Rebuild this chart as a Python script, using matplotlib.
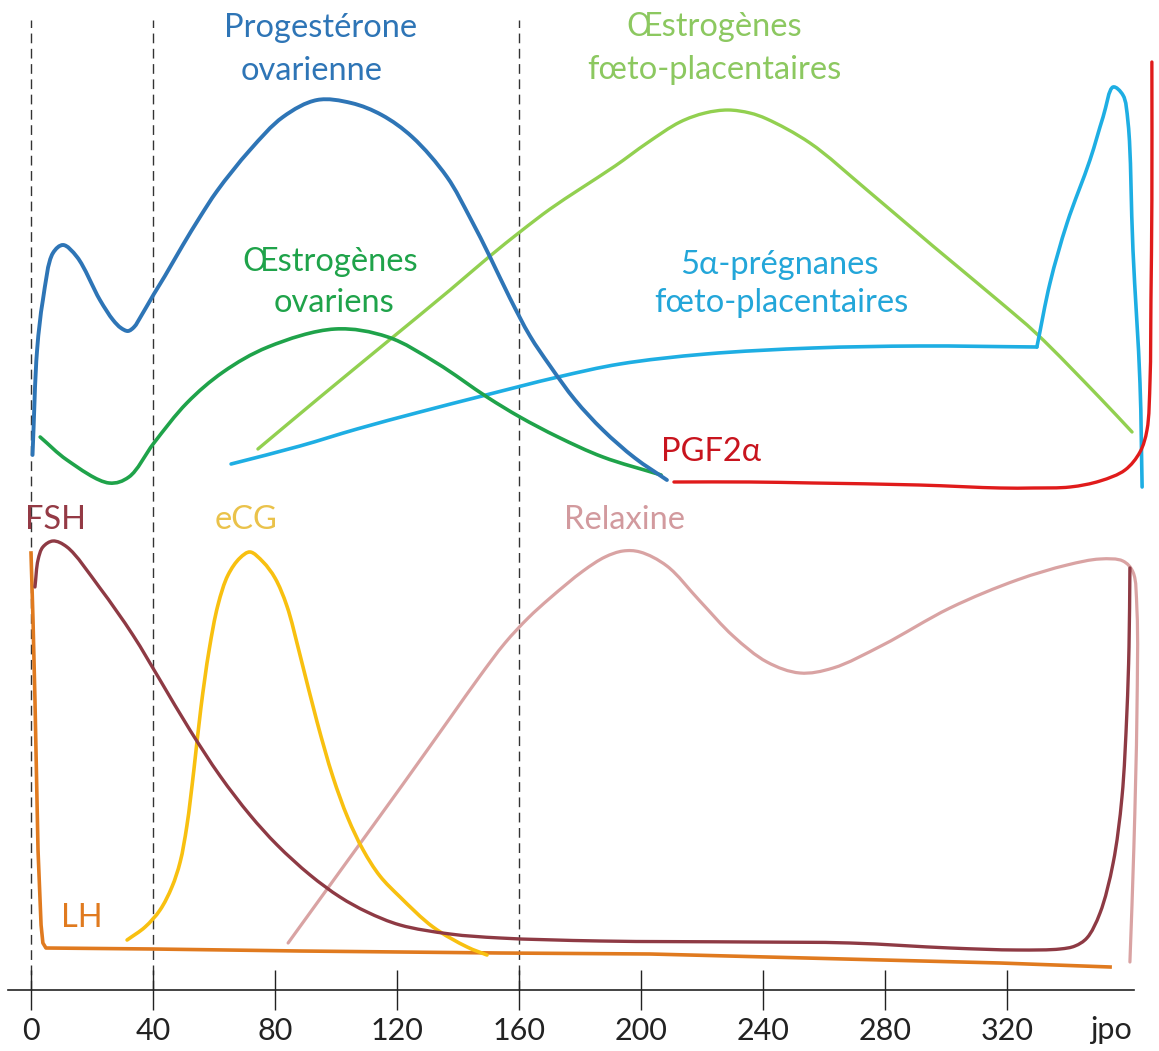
import numpy as np
import matplotlib
matplotlib.use("Agg")
import matplotlib.pyplot as plt
from matplotlib.path import Path
from matplotlib.patches import PathPatch

# ---------------- data (days post ovulation, relative level) ----------------
prog_days = [0.5, 2, 3.9, 7.2, 10.5, 15.1, 22.6, 26.9, 29.5, 31.8, 33.8, 36.1, 40.3, 43.9, 49.8, 55.4, 61, 71.8, 82.6, 93.8, 105, 115, 125, 136.4, 144, 150.5, 157, 163.6, 170.2, 178.4, 187.5, 198, 208.5]
prog_lvl = [535, 640, 690, 737, 745, 733, 690, 670, 662, 659, 663, 674, 696, 714, 745, 773, 799, 840, 873, 890, 887, 875, 853, 813, 772, 733, 692, 654, 624, 590, 560, 532, 510]

oeov_days = [3, 11.8, 25.6, 32.1, 40.3, 51.1, 63, 77.7, 99.7, 117, 133, 149.5, 160.3, 172.8, 187.5, 206.6]
oeov_lvl = [553, 530, 507, 513, 547, 587, 618, 643, 661, 653, 627, 593, 573, 553, 533, 515]

oefp_days = [74.4, 94.8, 116.7, 137.4, 150.5, 160.7, 170.2, 180, 191.5, 202, 212.8, 221, 228.5, 235.7, 241.3, 255.4, 274.1, 295.7, 317.7, 329.8, 350.5, 361]
oefp_lvl = [541, 593, 648, 700, 734, 759, 781, 801, 824, 847, 868, 877, 880, 877, 871, 847, 800, 744, 688, 656, 592, 558]

preg_days = [65.6, 88.2, 106.9, 127.5, 147.9, 172.8, 193.1, 221.3, 256.4, 291.1, 329.8]
preg_lvl = [526, 544, 561, 578, 594, 613, 626, 636, 642, 644, 643]
preg_peak_days = [329.8, 334.1, 339.7, 347.2, 351.5, 354.8, 358, 359.7, 361.3, 363.6, 364.3]
preg_peak_lvl = [643, 707, 767, 830, 873, 903, 895, 867, 740, 607, 503]

pgf_days = [210.8, 235.7, 256.4, 291.1, 317.7, 328.5, 340.7, 350.5, 358.7, 363.6, 365.9, 366.9, 367.2, 367.5, 367.5]
pgf_lvl = [508, 508, 507, 505, 502, 502, 503, 509, 520, 538, 560, 610, 690, 790, 928]

fsh_days = [1.3, 2.3, 3.9, 7.2, 11.8, 22.6, 33.4, 42.3, 52.1, 62, 71.8, 80.7, 91.5, 101.3, 110.2, 121, 137.4, 153.8, 186.6, 235.7, 268.5, 301.3, 323.3, 337.4, 342.3, 346.2, 350.5, 354.8, 357.7, 359.3, 360, 360.3]
fsh_lvl = [403, 430, 443, 449, 443, 402, 355, 310, 260, 214, 175, 145, 115, 93, 78, 65, 56, 52, 49, 48, 47, 42, 40, 41, 44, 52, 77, 127, 193, 277, 343, 422]

lh_days = [0, 0.66, 1.3, 2.3, 3.3, 3.9, 4.9, 40, 88.2, 153.8, 203, 241.3, 279.3, 317.7, 353.8]
lh_lvl = [437, 370, 290, 140, 65, 47, 42, 41, 39, 37, 36, 33, 30, 27, 23]

ecg_days = [31.5, 37.4, 42.3, 46.2, 48.9, 51.1, 53.4, 55.7, 58.4, 61.3, 64.6, 68.5, 71.8, 76.1, 80, 83.9, 88.2, 93.8, 99, 103.9, 108.9, 114.4, 121, 131.8, 143, 149.5]
ecg_lvl = [50, 63, 80, 103, 128, 164, 220, 282, 340, 385, 415, 432, 438, 428, 412, 384, 335, 268, 213, 172, 140, 114, 93, 63, 43, 35]

relax_days = [84.3, 102.8, 122, 137.4, 147.2, 155.4, 163, 170.2, 181, 188.2, 194.1, 199.7, 208.5, 219.3, 230.2, 241.3, 252.1, 263, 279.3, 301.3, 323.3, 339.7, 350.5, 358, 361.3, 362.6, 362.6, 361.6, 360.3]
relax_lvl = [47, 125, 206, 272, 314, 347, 372, 392, 419, 433, 439, 438, 424, 389, 354, 328, 317, 322, 345, 382, 410, 425, 431, 429, 418, 380, 277, 143, 28]

tick_values = [0, 40, 80, 120, 160, 200, 240, 280, 320]
dashed_days = [0, 40, 160]

# ---------------- drawing ----------------
PX_PER_DAY = 3.05
fig = plt.figure(figsize=(11.59, 10.51), dpi=100)
ax = fig.add_axes([0, 0, 1, 1])
ax.set_xlim(-31 / PX_PER_DAY, (1159 - 31) / PX_PER_DAY)
ax.set_ylim(-61, 990)

FONT = ['Lato', 'Noto Sans', 'DejaVu Sans']


def smooth(xs, ys, color, lw=2.6, z=3):
    """Centripetal Catmull-Rom through the data points, drawn as Bezier path."""
    P = np.column_stack([np.asarray(xs, float) * PX_PER_DAY, np.asarray(ys, float)])
    n = len(P)
    E = np.vstack([2 * P[0] - P[1], P, 2 * P[-1] - P[-2]])
    verts = [P[0]]
    codes = [Path.MOVETO]
    for i in range(n - 1):
        p0, p1, p2, p3 = E[i], E[i + 1], E[i + 2], E[i + 3]
        d0 = max(np.linalg.norm(p1 - p0), 1e-6) ** 0.5
        d1 = max(np.linalg.norm(p2 - p1), 1e-6) ** 0.5
        d2 = max(np.linalg.norm(p3 - p2), 1e-6) ** 0.5
        m1 = (p1 - p0) / d0 - (p2 - p0) / (d0 + d1) + (p2 - p1) / d1
        m2 = (p2 - p1) / d1 - (p3 - p1) / (d1 + d2) + (p3 - p2) / d2
        verts += [p1 + m1 * d1 / 3.0, p2 - m2 * d1 / 3.0, p2]
        codes += [Path.CURVE4] * 3
    V = np.array(verts)
    V[:, 0] /= PX_PER_DAY
    ax.add_patch(PathPatch(Path(V, codes), fill=False, edgecolor=color,
                           lw=lw, capstyle='round', joinstyle='round', zorder=z))


# dashed guides
ax.vlines(dashed_days, 0, 970, colors='#333333', lw=1.0,
          linestyles=(0, (7, 4)), zorder=1)

c_prog = '#2E75B6'
c_oeov = '#1FA34A'
c_oefp = '#92D050'
c_preg = '#1EAEE3'
c_pgf = '#E01B1B'
c_fsh = '#8E3A44'
c_lh = '#E07A1F'
c_ecg = '#F8C010'
c_rel = '#D9A3A3'

smooth(oefp_days, oefp_lvl, c_oefp, 2.4)
smooth(preg_days, preg_lvl, c_preg, 2.6)
smooth(preg_peak_days, preg_peak_lvl, c_preg, 2.6)
smooth(oeov_days, oeov_lvl, c_oeov, 2.6)
smooth(prog_days, prog_lvl, c_prog, 2.8)
smooth(pgf_days, pgf_lvl, c_pgf, 2.4)
ax.plot(lh_days, lh_lvl, color=c_lh, lw=2.6, solid_joinstyle='round', zorder=3)
smooth(relax_days, relax_lvl, c_rel, 2.3)
smooth(ecg_days, ecg_lvl, c_ecg, 2.6)
smooth(fsh_days, fsh_lvl, c_fsh, 2.4)

# labels
def lab(x, y, s, c, fs=23.5):
    ax.text(x, y, s, color=c, fontsize=fs, family=FONT, ha='center', va='center', zorder=5)

lab(94.8, 962, 'Progestérone', c_prog)
lab(92, 919, 'ovarienne', c_prog)
lab(98, 728, 'Œstrogènes', '#1FA34A')
lab(99.5, 687, 'ovariens', '#1FA34A')
lab(224, 963, 'Œstrogènes', '#8CC860')
lab(224, 920, 'fœto-placentaires', '#8CC860')
lab(245.5, 725, '5α-prégnanes', '#23A6D9')
lab(246, 687, 'fœto-placentaires', '#23A6D9')
lab(223, 538, 'PGF2α', '#C8141E')
lab(8, 470, 'FSH', '#943A45')
lab(70.5, 470, 'eCG', '#EAC24A')
lab(194.5, 470, 'Relaxine', '#D29A9E')
lab(16.5, 72, 'LH', c_lh)

# axis
for s in ['top', 'left', 'right']:
    ax.spines[s].set_visible(False)
ax.spines['bottom'].set_position(('data', 0))
ax.spines['bottom'].set_bounds(-7.5, 361.6)
ax.spines['bottom'].set_linewidth(1.2)
ax.spines['bottom'].set_color('#222222')
ax.set_xticks(tick_values)
ax.set_xticklabels([str(v) for v in tick_values])
ax.tick_params(axis='x', direction='inout', length=29, width=1.0, color='#222222',
               pad=5, labelsize=22, labelcolor='#222222')
for t in ax.get_xticklabels():
    t.set_family(FONT)
ax.set_yticks([])
ax.text(354, -40, 'jpo', fontsize=22, family=FONT, color='#222222', ha='center', va='center')

fig.savefig('out.png', dpi=100)
